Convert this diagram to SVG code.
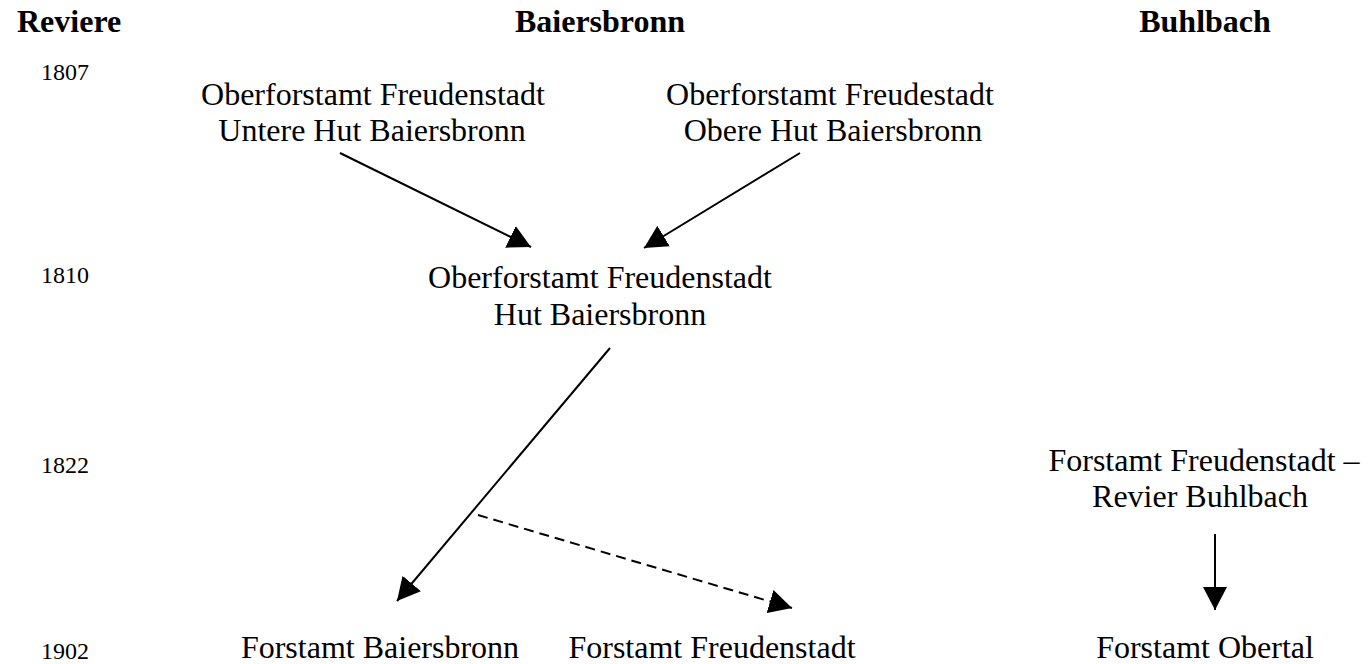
<svg xmlns="http://www.w3.org/2000/svg" width="1372" height="664" viewBox="0 0 1372 664">
<style>
.h{font-family:"Liberation Serif","Times New Roman",serif;font-weight:bold;font-size:32px;fill:#000}
.y{font-family:"Liberation Serif","Times New Roman",serif;font-size:24px;fill:#000}
.t{font-family:"Liberation Serif","Times New Roman",serif;font-size:32px;fill:#000;text-anchor:middle}
.c{stroke:#000;stroke-width:2;fill:none}
.d{stroke-dasharray:10,6}
</style>
<defs>
<marker id="ah" markerUnits="userSpaceOnUse" markerWidth="24" markerHeight="24" viewBox="0 0 22 22" refX="21" refY="11" orient="auto">
<path d="M0,0 L21,11 L0,22 Z" fill="#000"/>
</marker>
</defs>
<g id="headers">
<text class="h" x="17" y="32">Reviere</text>
<text class="h" x="600" y="32" text-anchor="middle">Baiersbronn</text>
<text class="h" x="1205" y="32" text-anchor="middle">Buhlbach</text>
</g>
<g id="years">
<text class="y" x="41" y="80">1807</text>
<text class="y" x="41" y="283">1810</text>
<text class="y" x="41" y="473">1822</text>
<text class="y" x="41" y="659">1902</text>
</g>
<g id="n1"><text class="t" x="373" y="105">Oberforstamt Freudenstadt</text><text class="t" x="372" y="141">Untere Hut Baiersbronn</text></g>
<g id="n2"><text class="t" x="830" y="105">Oberforstamt Freudestadt</text><text class="t" x="833" y="141">Obere Hut Baiersbronn</text></g>
<g id="n3"><text class="t" x="600" y="288">Oberforstamt Freudenstadt</text><text class="t" x="600" y="325">Hut Baiersbronn</text></g>
<g id="n4"><text class="t" x="1204" y="471">Forstamt Freudenstadt –</text><text class="t" x="1200" y="507">Revier Buhlbach</text></g>
<g id="n5"><text class="t" x="380" y="658">Forstamt Baiersbronn</text></g>
<g id="n6"><text class="t" x="712" y="658">Forstamt Freudenstadt</text></g>
<g id="n7"><text class="t" x="1205" y="658">Forstamt Obertal</text></g>
<g id="connectors">
<line class="c" x1="340" y1="153" x2="531" y2="247" marker-end="url(#ah)"/>
<line class="c" x1="800" y1="153" x2="644" y2="248" marker-end="url(#ah)"/>
<line class="c" x1="610" y1="348" x2="397" y2="601" marker-end="url(#ah)"/>
<line class="c d" x1="478" y1="515" x2="792" y2="608" marker-end="url(#ah)"/>
<line class="c" x1="1215" y1="534" x2="1215" y2="610" marker-end="url(#ah)"/>
</g>
</svg>
